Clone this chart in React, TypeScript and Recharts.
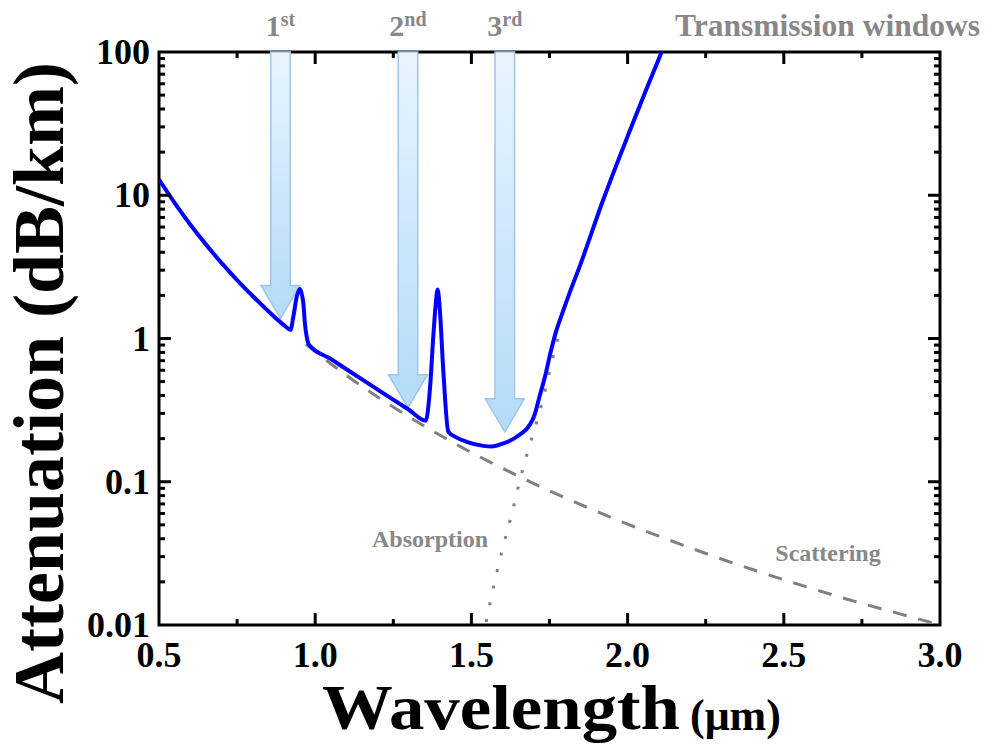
import React from 'react';
import { LineChart, Line, XAxis, YAxis, ReferenceArea, ReferenceDot } from 'recharts';

// total attenuation (blue curve)
const totalWavelength = [
  0.5, 0.55, 0.6, 0.65, 0.7, 0.75, 0.8, 0.85, 0.9, 0.921, 0.93, 0.941, 0.951, 0.962, 0.967, 0.973, 0.981,
  1.05, 1.1, 1.2, 1.3, 1.354, 1.367, 1.378, 1.386, 1.392, 1.399, 1.41, 1.426, 1.45, 1.485, 1.538, 1.565,
  1.602, 1.645, 1.698, 1.719, 1.738, 1.751, 1.77, 1.79, 1.815, 1.847, 1.922, 2.008, 2.06, 2.109,
];
const totalLoss = [
  12.9, 8.85, 6.25, 4.54, 3.37, 2.56, 1.98, 1.55, 1.24, 1.15, 1.42, 1.96, 2.22, 1.76, 1.28, 1.02, 0.9,
  0.72, 0.61, 0.44, 0.318, 0.267, 0.436, 1.03, 1.76, 2.2, 1.58, 0.6, 0.224, 0.205, 0.19, 0.178, 0.176,
  0.185, 0.206, 0.277, 0.4, 0.57, 0.76, 1.1, 1.48, 2.1, 3.2, 9.3, 28.5, 55, 100,
];

// Rayleigh scattering (dashed)
const scatterWavelength = [0.97, 1.0, 1.1, 1.2, 1.3, 1.4, 1.5, 1.6, 1.7, 1.8, 1.9, 2.0, 2.1, 2.2, 2.3, 2.4, 2.5, 2.6, 2.7, 2.8, 2.9, 3.0];
const scatterLoss = [0.915, 0.81, 0.553, 0.391, 0.284, 0.211, 0.16, 0.124, 0.097, 0.0772, 0.0622, 0.0506, 0.0417, 0.0346, 0.0289, 0.0244, 0.0207, 0.0177, 0.0152, 0.0132, 0.0115, 0.01];

// IR absorption (dotted)
const absorbWavelength = [1.547, 1.576, 1.602, 1.629, 1.656, 1.688, 1.704, 1.732, 1.751, 1.783];
const absorbLoss = [0.0105, 0.0207, 0.0356, 0.0593, 0.104, 0.185, 0.24, 0.4, 0.6, 1.15];

// transmission window arrows
const windowWavelength = [0.889, 1.297, 1.607];
const windowTip = [1.38, 0.329, 0.223];
const windowNumber = ['1', '2', '3'];
const windowSuffix = ['st', 'nd', 'rd'];

const xTicks = [0.5, 0.75, 1.0, 1.25, 1.5, 1.75, 2.0, 2.25, 2.5, 2.75, 3.0];
const xLabelTicks = [0.5, 1.0, 1.5, 2.0, 2.5, 3.0];
const yTicks = [
  0.01, 0.02, 0.03, 0.04, 0.05, 0.06, 0.07, 0.08, 0.09,
  0.1, 0.2, 0.3, 0.4, 0.5, 0.6, 0.7, 0.8, 0.9,
  1, 2, 3, 4, 5, 6, 7, 8, 9,
  10, 20, 30, 40, 50, 60, 70, 80, 90, 100,
];
const yLabelTicks = [0.01, 0.1, 1, 10, 100];

const W = 987;
const H = 746;
const PLOT_TOP = 52;
const PLOT_RIGHT = 940;
const FONT = '"Liberation Serif", "Times New Roman", serif';
const GRAY_TEXT = '#888888';

const zip = (xs: number[], ys: number[]) => xs.map((x, i) => ({ x, y: ys[i] }));
const totalData = zip(totalWavelength, totalLoss);
const scatterData = zip(scatterWavelength, scatterLoss);
const absorbData = zip(absorbWavelength, absorbLoss);

const XTick = (props: any) => {
  const { x, y, payload } = props;
  const v = payload.value;
  const major = xLabelTicks.includes(v);
  const len = major ? 12 : 6;
  const edge = v === 0.5 || v === 3.0;
  return (
    <g>
      {!edge && <line x1={x} x2={x} y1={y} y2={y - len} stroke="#000" strokeWidth={3} />}
      {!edge && <line x1={x} x2={x} y1={PLOT_TOP} y2={PLOT_TOP + len} stroke="#000" strokeWidth={3} />}
      {major && (
        <text x={x} y={y + 42} textAnchor="middle" fontFamily={FONT} fontWeight="bold" fontSize={36} fill="#000">
          {v.toFixed(1)}
        </text>
      )}
    </g>
  );
};

const YTick = (props: any) => {
  const { x, y, payload } = props;
  const v = payload.value;
  const major = yLabelTicks.includes(v);
  const len = major ? 12 : 6;
  const edge = v === 0.01 || v === 100;
  return (
    <g>
      {!edge && <line x1={x} x2={x + len} y1={y} y2={y} stroke="#000" strokeWidth={3} />}
      {!edge && <line x1={PLOT_RIGHT} x2={PLOT_RIGHT - len} y1={y} y2={y} stroke="#000" strokeWidth={3} />}
      {major && (
        <text x={x - 9} y={y + 12} textAnchor="end" fontFamily={FONT} fontWeight="bold" fontSize={36} fill="#000">
          {String(v)}
        </text>
      )}
    </g>
  );
};

const makeArrow = (i: number) => (props: any) => {
  const { x, y, width, height } = props;
  const cx = x + width / 2;
  const sw = width / 4;
  const tip = y + height;
  const headTop = tip - 33;
  const pts = [
    [cx - sw, y], [cx + sw, y], [cx + sw, headTop], [x + width, headTop],
    [cx, tip], [x, headTop], [cx - sw, headTop],
  ].map((p) => p.join(',')).join(' ');
  const gid = `arrowGrad${i}`;
  return (
    <g>
      <defs>
        <linearGradient id={gid} x1="0" y1="0" x2="0" y2="1">
          <stop offset="0%" stopColor="#e8f5fe" />
          <stop offset="100%" stopColor="#b3dbf8" />
        </linearGradient>
      </defs>
      <polygon points={pts} fill={`url(#${gid})`} stroke="#9ec5ea" strokeWidth={1.5} />
      <text x={cx} y={y - 16} textAnchor="middle" fontFamily={FONT} fontWeight="bold" fontSize={30} fill={GRAY_TEXT}>
        {windowNumber[i]}
        <tspan dy={-10} fontSize={20}>{windowSuffix[i]}</tspan>
      </text>
    </g>
  );
};

const noteLabel = (text: string) => (props: any) => {
  const vb = props.viewBox || {};
  const cx = (vb.x ?? 0) + (vb.width ?? 0) / 2;
  const cy = (vb.y ?? 0) + (vb.height ?? 0) / 2;
  return (
    <text x={cx} y={cy} textAnchor="middle" fontFamily={FONT} fontWeight="bold" fontSize={24} fill={GRAY_TEXT}>
      {text}
    </text>
  );
};

export default function App() {
  return (
    <div style={{ position: 'absolute', left: 0, top: 0, width: W, height: H, background: '#fff' }}>
      <LineChart width={W} height={H} margin={{ top: 52, right: 47, bottom: 61, left: 59 }}>
        <XAxis
          type="number"
          dataKey="x"
          domain={[0.5, 3]}
          ticks={xTicks}
          interval={0}
          tick={(p: any) => <XTick {...p} />}
          tickLine={false}
          axisLine={false}
          tickSize={0}
          tickMargin={0}
          height={60}
          allowDataOverflow
        />
        <YAxis
          type="number"
          dataKey="y"
          scale="log"
          domain={[0.01, 100]}
          ticks={yTicks}
          interval={0}
          tick={(p: any) => <YTick {...p} />}
          tickLine={false}
          axisLine={false}
          tickSize={0}
          tickMargin={0}
          width={100}
          allowDataOverflow
        />
        <ReferenceArea x1={0.5} x2={3} y1={0.01} y2={100} fill="none" fillOpacity={0} stroke="#000" strokeWidth={3} />
        {windowWavelength.map((wl, i) => (
          <ReferenceArea
            key={windowNumber[i]}
            x1={wl - 0.0625}
            x2={wl + 0.0625}
            y1={windowTip[i]}
            y2={100}
            shape={makeArrow(i)}
          />
        ))}
        <ReferenceDot x={1.3675} y={0.035} r={1} fill="none" stroke="none" label={{ content: noteLabel('Absorption') }} />
        <ReferenceDot x={2.6415} y={0.0278} r={1} fill="none" stroke="none" label={{ content: noteLabel('Scattering') }} />
        <Line
          data={scatterData}
          dataKey="y"
          type="monotone"
          stroke="#808080"
          strokeWidth={3}
          strokeDasharray="14 12"
          dot={false}
          activeDot={false}
          isAnimationActive={false}
        />
        <Line
          data={absorbData}
          dataKey="y"
          type="monotone"
          stroke="#808080"
          strokeWidth={3}
          strokeDasharray="3 14"
          dot={false}
          activeDot={false}
          isAnimationActive={false}
        />
        <Line
          data={totalData}
          dataKey="y"
          type="monotone"
          stroke="#0000ff"
          strokeWidth={4}
          dot={false}
          activeDot={false}
          isAnimationActive={false}
        />
      </LineChart>
      <svg width={W} height={H} style={{ position: 'absolute', left: 0, top: 0, pointerEvents: 'none' }}>
        <text x={980} y={36} textAnchor="end" fontFamily={FONT} fontWeight="bold" fontSize={31.5} fill={GRAY_TEXT}>
          Transmission windows
        </text>
        <text transform="rotate(-90)" x={-383} y={63} textAnchor="middle" fontFamily={FONT} fontWeight="bold" fontSize={72} fill="#000">
          Attenuation (dB/km)
        </text>
        <text x={322} y={729} fontFamily={FONT} fontWeight="bold" fontSize={64} textLength={358} lengthAdjust="spacingAndGlyphs" fill="#000">
          Wavelength
        </text>
        <text x={690} y={730} fontFamily={FONT} fontWeight="bold" fontSize={44} fill="#000">
          (μm)
        </text>
      </svg>
    </div>
  );
}
